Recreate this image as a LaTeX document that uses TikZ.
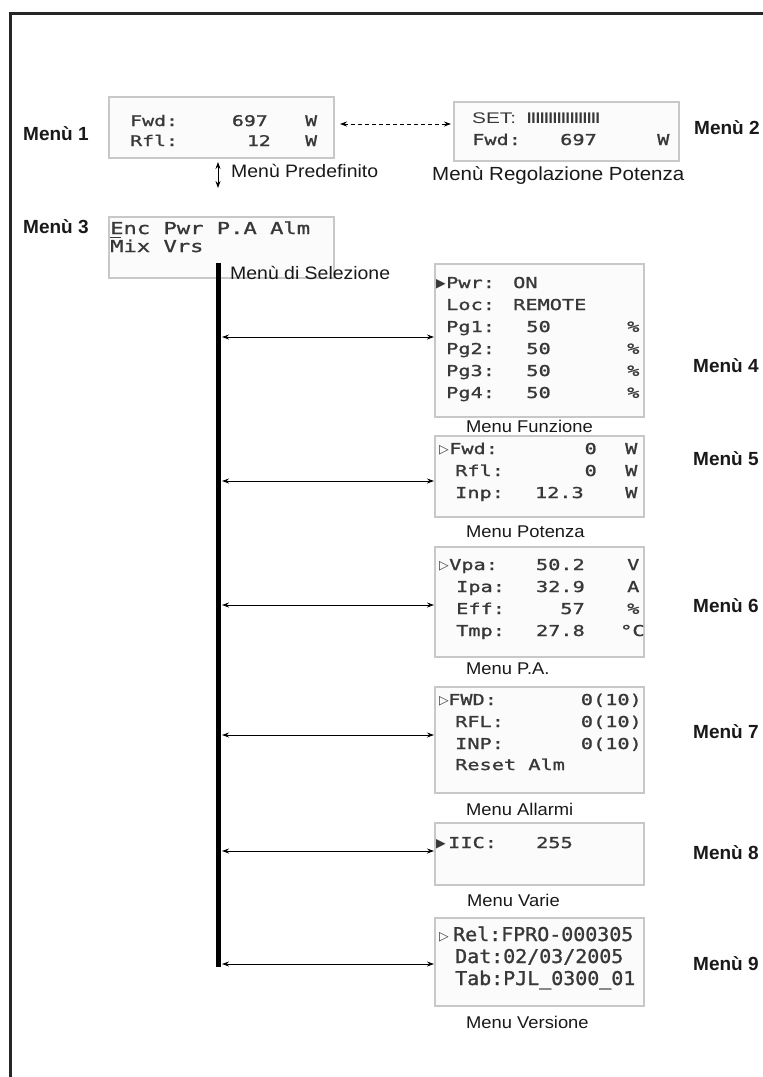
\documentclass[tikz,border=0pt]{standalone}
\usepackage{fontspec}
\setmainfont{Liberation Sans}
\newfontfamily\lcdf[FakeStretch=1.35, FakeBold=1.2]{DejaVu Sans Mono}
\newfontfamily\lcdn[FakeStretch=1.05, FakeBold=1.2]{DejaVu Sans Mono}
\newfontfamily\capf[FakeStretch=1.08]{Liberation Sans}
\newfontfamily\setf[FakeStretch=1.35]{Liberation Sans}
\newfontfamily\trif{DejaVu Sans}
\usetikzlibrary{arrows.meta}
\definecolor{lcdtext}{HTML}{383838}
\definecolor{lcdborder}{HTML}{C8C8C8}
\definecolor{lcdfill}{HTML}{FBFBFB}
\definecolor{framecol}{HTML}{262626}
\tikzset{
  lcdbox/.style={draw=lcdborder, fill=lcdfill, line width=2pt, anchor=north west, inner sep=0pt},
  lcdwide/.style={lcdbox, minimum width=225pt},
  lcdnarrow/.style={lcdbox, minimum width=209pt},
  lcd/.style={inner sep=0pt, anchor=base west, text=lcdtext, font=\lcdf\fontsize{#1}{#1}\selectfont},
  lcd/.default=15,
  lcdnine/.style={inner sep=0pt, anchor=base west, text=lcdtext, font=\lcdn\fontsize{19}{19}\selectfont},
  tri/.style={inner sep=0pt, anchor=base west, text=lcdtext, font=\trif\fontsize{12.5}{12.5}\selectfont},
  setstyle/.style={inner sep=0pt, anchor=base west, text=lcdtext, font=\setf\fontsize{15.4}{15.4}\selectfont},
  barstyle/.style={inner sep=0pt, anchor=base west, text=lcdtext, font=\bfseries\fontsize{15.4}{15.4}\selectfont},
  mlabel/.style={inner sep=0pt, anchor=base west, text=black!90, font=\bfseries\fontsize{19}{19}\selectfont},
  capt/.style={inner sep=0pt, anchor=base west, text=black!90, font=\capf\fontsize{17}{17}\selectfont},
  capbig/.style={capt, font=\capf\fontsize{18}{18}\selectfont},
  darr/.style={{Stealth[length=7pt,width=5pt]}-{Stealth[length=7pt,width=5pt]}, line width=0.9pt, black},
  dasharr/.style={darr, dash pattern=on 4pt off 3pt},
  trunk/.style={line width=5pt, black},
  framestyle/.style={line width=3pt, framecol},
}
\begin{document}
\begin{tikzpicture}[x=1pt, y=-1pt]
\useasboundingbox[fill=white] (0,0) rectangle (763,1077);
% frame
\coordinate (fa) at (10.5,1077);
\coordinate (fb) at (10.5,13);
\coordinate (fc) at (763,13);
\draw[framestyle] (fa) -- (fb) -- (fc);

% ---------- Menu 1
\node[lcdwide, minimum height=61pt] (m1) at (108,96) {};
\node[lcd=14.7] (m1l1) at (130,126) {Fwd:};
\node[lcd=14.7, anchor=base east] (m1v1) at (268,126) {697};
\node[lcd=14.7] (m1u1) at (305,126) {W};
\node[lcd=14.7] (m1l2) at (130,146) {Rfl:};
\node[lcd=14.7, anchor=base east] (m1v2) at (271,146) {12};
\node[lcd=14.7] (m1u2) at (305,146) {W};
\node[mlabel] (lab1) at (23,140) {Menù 1};

% ---------- Menu 2
\node[lcdwide, minimum height=59pt] (m2) at (453,101) {};
\node[setstyle] (m2s) at (472,123) {SET:};
\node[barstyle] (m2b) at (527,123) {IIIIIIIIIIIIIIIII};
\node[lcd=15] (m2l) at (472,145) {Fwd:};
\node[lcd=15, anchor=base east] (m2v) at (597,145) {697};
\node[lcd=15] (m2u) at (657,145) {W};
\node[mlabel] (lab2) at (694,134) {Menù 2};

% dashed link
\coordinate (da) at (340,124);
\coordinate (db) at (451,124);
\draw[dasharr] (da) -- (db);

\node[capbig] (cpre) at (231,177) {Menù Predefinito};
\node[capbig, font=\capf\fontsize{19}{19}\selectfont] (creg) at (432,180) {Menù Regolazione Potenza};
\coordinate (pa) at (218,162);
\coordinate (pb) at (218,188);
\draw[darr] (pa) -- (pb);

% ---------- Menu 3
\node[lcdwide, minimum height=61pt] (m3) at (108,216) {};
\node[lcd=16.4] (m3l1) at (110,234) {Enc Pwr P.A Alm};
\node[lcd=16.4] (m3l2) at (110,252) {Mix Vrs};
\coordinate (cu1) at (110,237.5);
\coordinate (cu2) at (121,237.5);
\draw[lcdtext, line width=1.2pt] (cu1) -- (cu2);
\node[mlabel] (lab3) at (23,233) {Menù 3};

\node[capbig] (csel) at (230,279) {Menù di Selezione};

% trunk
\coordinate (ttop) at (218.5,263);
\coordinate (tbot) at (218.5,967);
\draw[trunk] (ttop) -- (tbot);

% ---------- Menu 4
\node[lcdnarrow, minimum height=153pt] (m4) at (434,263) {};
\node[tri] (m4t) at (436,287) {▶};
\node[lcd] (m4a) at (446,288) {Pwr:};
\node[lcd] (m4av) at (513,288) {ON};
\node[lcd] (m4b) at (446,310) {Loc:};
\node[lcd] (m4bv) at (513,310) {REMOTE};
\node[lcd] (m4c) at (446,332) {Pg1:};
\node[lcd, anchor=base east] (m4cv) at (551,332) {50};
\node[lcd] (m4cu) at (627,332) {\%};
\node[lcd] (m4d) at (446,354) {Pg2:};
\node[lcd, anchor=base east] (m4dv) at (551,354) {50};
\node[lcd] (m4du) at (627,354) {\%};
\node[lcd] (m4e) at (446,376) {Pg3:};
\node[lcd, anchor=base east] (m4ev) at (551,376) {50};
\node[lcd] (m4eu) at (627,376) {\%};
\node[lcd] (m4f) at (446,398) {Pg4:};
\node[lcd, anchor=base east] (m4fv) at (551,398) {50};
\node[lcd] (m4fu) at (627,398) {\%};
\node[mlabel] (lab4) at (693,372) {Menù 4};
\node[capt] (c4) at (466,432) {Menu Funzione};

% ---------- Menu 5
\node[lcdnarrow, minimum height=81pt] (m5) at (434,435) {};
\node[tri] (m5t) at (439,453) {▷};
\node[lcd] (m5a) at (449,454) {Fwd:};
\node[lcd, anchor=base east] (m5av) at (597,454) {0};
\node[lcd] (m5au) at (625,454) {W};
\node[lcd] (m5b) at (455,476) {Rfl:};
\node[lcd, anchor=base east] (m5bv) at (597,476) {0};
\node[lcd] (m5bu) at (625,476) {W};
\node[lcd] (m5c) at (455,498) {Inp:};
\node[lcd, anchor=base east] (m5cv) at (584,498) {12.3};
\node[lcd] (m5cu) at (625,498) {W};
\node[mlabel] (lab5) at (693,465) {Menù 5};
\node[capt] (c5) at (466,537) {Menu Potenza};

% ---------- Menu 6
\node[lcdnarrow, minimum height=110pt] (m6) at (434,546) {};
\node[tri] (m6t) at (439,569) {▷};
\node[lcd] (m6a) at (449,570) {Vpa:};
\node[lcd, anchor=base east] (m6av) at (585,570) {50.2};
\node[lcd] (m6au) at (627,570) {V};
\node[lcd] (m6b) at (456,592) {Ipa:};
\node[lcd, anchor=base east] (m6bv) at (585,592) {32.9};
\node[lcd] (m6bu) at (627,592) {A};
\node[lcd] (m6c) at (456,614) {Eff:};
\node[lcd, anchor=base east] (m6cv) at (585,614) {57};
\node[lcd] (m6cu) at (627,614) {\%};
\node[lcd] (m6d) at (456,636) {Tmp:};
\node[lcd, anchor=base east] (m6dv) at (585,636) {27.8};
\node[lcd] (m6du) at (620,636) {°C};
\node[mlabel] (lab6) at (693,612) {Menù 6};
\node[capt] (c6) at (466,674) {Menu P.A.};

% ---------- Menu 7
\node[lcdnarrow, minimum height=106pt] (m7) at (434,686) {};
\node[tri] (m7t) at (439,704) {▷};
\node[lcd] (m7a) at (448,705) {FWD:};
\node[lcd, anchor=base east] (m7av) at (642,705) {0(10)};
\node[lcd] (m7b) at (455,727) {RFL:};
\node[lcd, anchor=base east] (m7bv) at (642,727) {0(10)};
\node[lcd] (m7c) at (455,749) {INP:};
\node[lcd, anchor=base east] (m7cv) at (642,749) {0(10)};
\node[lcd] (m7d) at (455,770) {Reset Alm};
\node[mlabel] (lab7) at (693,738) {Menù 7};
\node[capt] (c7) at (466,815) {Menu Allarmi};

% ---------- Menu 8
\node[lcdnarrow, minimum height=62pt] (m8) at (434,822) {};
\node[tri] (m8t) at (436,847) {▶};
\node[lcd] (m8a) at (448,848) {IIC:};
\node[lcd, anchor=base east] (m8av) at (573,848) {255};
\node[mlabel] (lab8) at (693,859) {Menù 8};
\node[capt] (c8) at (467,906) {Menu Varie};

% ---------- Menu 9
\node[lcdnarrow, minimum height=88pt] (m9) at (434,917) {};
\node[tri] (m9t) at (439,940) {▷};
\node[lcdnine] (m9a) at (453,941) {Rel:FPRO-000305};
\node[lcdnine] (m9b) at (455,963) {Dat:02/03/2005};
\node[lcdnine] (m9c) at (455,985) {Tab:PJL\_0300\_01};
\node[mlabel] (lab9) at (693,970) {Menù 9};
\node[capt] (c9) at (466,1028) {Menu Versione};

% branch arrows
\coordinate (t4) at (222,337);
\coordinate (t5) at (222,481);
\coordinate (t6) at (222,605);
\coordinate (t7) at (222,735);
\coordinate (t8) at (222,851);
\coordinate (t9) at (222,964);
\draw[darr] (t4) -- (t4 -| m4.west);
\draw[darr] (t5) -- (t5 -| m5.west);
\draw[darr] (t6) -- (t6 -| m6.west);
\draw[darr] (t7) -- (t7 -| m7.west);
\draw[darr] (t8) -- (t8 -| m8.west);
\draw[darr] (t9) -- (t9 -| m9.west);
\end{tikzpicture}
\end{document}
